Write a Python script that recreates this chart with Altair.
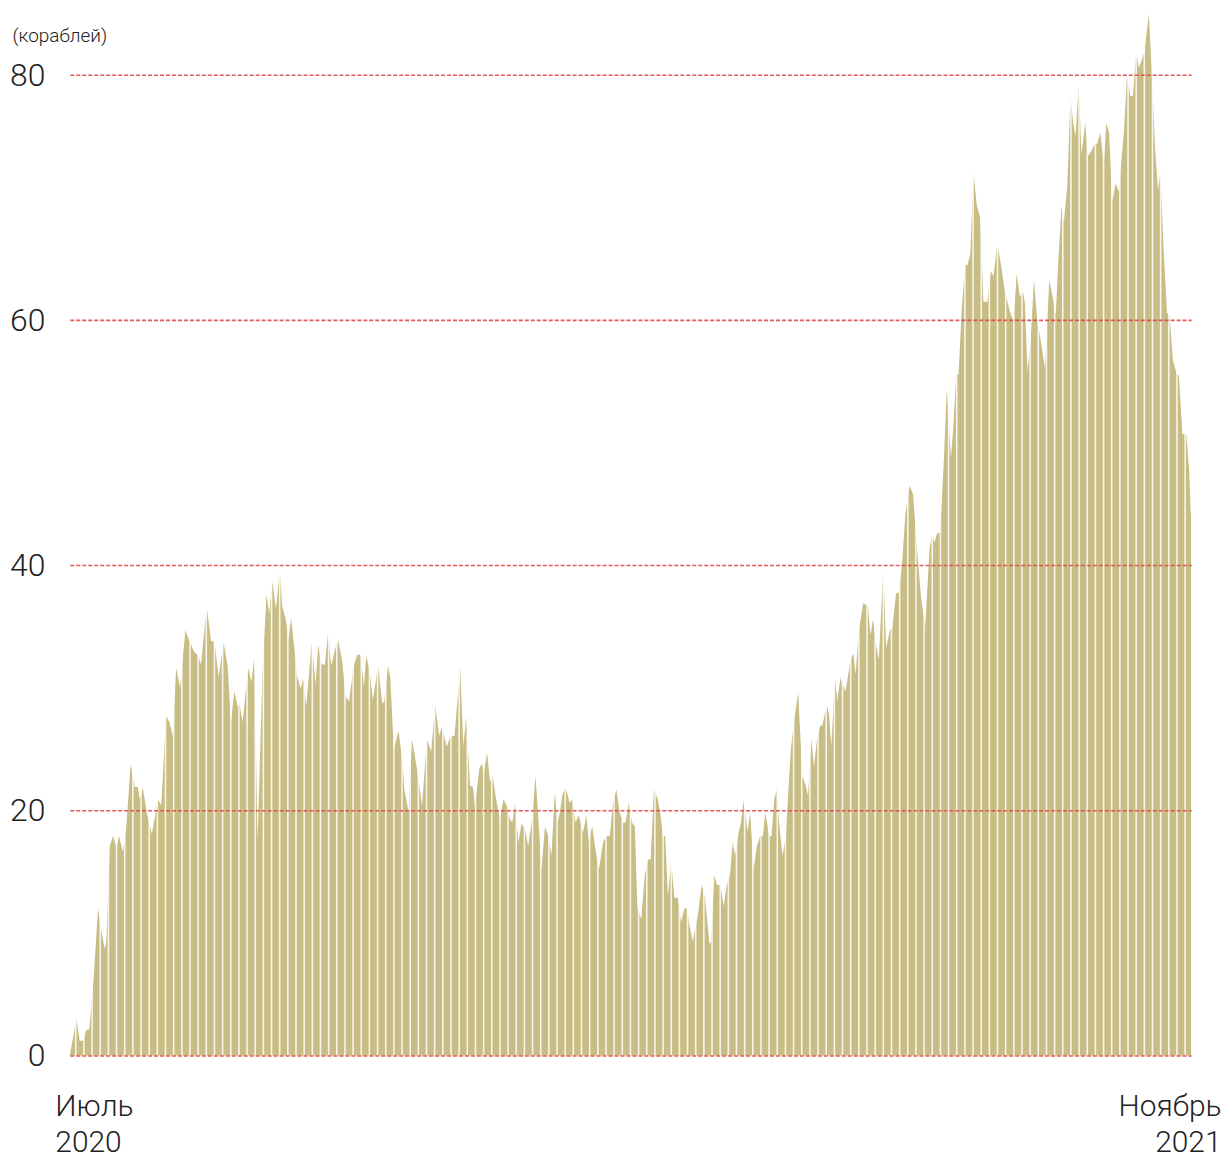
import altair as alt
import numpy as np
import pandas as pd

# Days since 1 July 2020 at which the outline was read
day_offset = [
    0.0, 2.9, 4.3, 5.8, 7.2, 8.4, 10.1, 12.3, 13.8, 15.2,
    15.9, 17.4, 18.8, 20.3, 21.4, 23.1, 24.6, 26.5, 28.2, 29.6,
    30.4, 31.8, 33.5, 35.7, 36.9, 38.3, 39.8, 41.9, 43.4, 44.8,
    46.3, 48.0, 50.3, 52.1, 54.2, 55.7, 57.1, 59.6, 61.5, 62.9,
    64.8, 66.9, 68.7, 70.1, 71.6, 73.0, 73.7, 75.2, 77.6, 79.1,
    80.3, 81.7, 83.9, 85.6, 86.8, 88.2, 89.7, 91.4, 92.5, 94.0,
    95.1, 96.3, 97.6, 99.0, 100.5, 101.6, 102.9, 105.3, 107.0, 108.1,
    109.6, 111.0, 112.4, 113.8, 115.4, 116.8, 118.6, 120.0, 121.5, 123.6,
    125.1, 126.5, 128.0, 129.0, 130.4, 131.9, 134.2, 135.9, 136.8, 138.5,
    139.5, 141.0, 143.1, 144.6, 145.6, 147.5, 148.9, 151.1, 153.3, 155.4,
    157.3, 159.0, 160.8, 161.9, 164.1, 165.6, 167.4, 169.9, 171.3, 172.5,
    174.2, 175.4, 176.4, 178.2, 179.3, 180.3, 181.6, 182.9, 184.0, 185.8,
    187.2, 188.7, 190.1, 191.6, 192.6, 193.8, 195.2, 196.6, 198.1, 199.5,
    201.0, 202.7, 204.2, 205.3, 206.8, 208.2, 209.6, 211.1, 212.2, 213.3,
    214.3, 215.7, 217.6, 218.6, 220.1, 221.5, 223.4, 224.8, 225.9, 227.3,
    229.2, 230.3, 232.1, 233.5, 235.0, 236.4, 237.9, 239.3, 240.8, 241.8,
    243.3, 244.7, 245.9, 247.0, 248.7, 250.2, 251.6, 252.8, 254.2, 255.9,
    257.1, 258.1, 259.1, 260.3, 261.7, 263.2, 264.6, 266.0, 267.5, 268.6,
    269.7, 271.1, 273.3, 275.0, 276.4, 278.4, 279.1, 280.5, 281.6, 283.1,
    284.6, 285.9, 287.3, 288.5, 289.5, 291.1, 292.1, 293.2, 295.0, 296.1,
    297.6, 299.0, 300.5, 301.6, 302.7, 304.4, 305.4, 306.6, 307.7, 308.7,
    310.2, 311.6, 313.8, 315.5, 317.0, 318.8, 320.3, 321.3, 322.7, 323.9,
    325.0, 326.5, 327.5, 329.4, 330.4, 331.4, 333.0, 334.0, 335.4, 337.6,
    339.8, 341.0, 342.0, 343.4, 345.3, 347.3, 348.5, 349.6, 351.1, 352.1,
    354.0, 355.3, 356.9, 357.9, 359.6, 360.8, 362.2, 363.6, 365.5, 367.0,
    368.7, 370.5, 372.3, 374.2, 375.2, 376.4, 377.4, 378.8, 380.3, 381.7,
    383.5, 384.6, 385.8, 386.8, 388.2, 389.7, 390.7, 391.9, 393.3, 394.7,
    396.2, 397.6, 399.4, 400.8, 402.0, 403.7, 405.1, 407.0, 409.2, 410.7,
    412.1, 413.5, 414.7, 415.7, 416.8, 418.2, 419.6, 421.1, 422.5, 424.4,
    426.3, 428.0, 429.1, 430.2, 431.6, 432.6, 434.1, 435.5, 436.7, 437.7,
    439.1, 440.3, 441.9, 443.2, 444.6, 446.1, 447.1, 448.5, 450.0, 451.1,
    452.3, 453.7, 455.2, 456.5, 457.6, 458.8, 460.1, 461.5, 462.7, 464.1,
    465.3, 466.4, 467.7, 469.6, 470.9, 472.4, 473.6, 474.7, 476.0, 477.5,
    478.6, 480.1, 481.8, 482.7, 484.2, 485.9, 487.1, 488.0,
]

# Number of ships (кораблей)
vessels = [
    0, 3.0, 1.2, 1.2, 2.1, 2.1, 5.5, 12.0, 10.1, 8.7,
    9.3, 17.1, 17.9, 17.0, 17.9, 16.6, 18.7, 23.8, 21.9, 21.9,
    20.9, 21.8, 19.8, 18.1, 19.3, 20.9, 20.4, 27.7, 27.2, 26.1,
    31.6, 30.0, 34.7, 33.8, 32.9, 32.7, 31.9, 36.6, 33.8, 33.8,
    30.9, 33.7, 31.8, 27.2, 29.7, 28.5, 28.8, 27.2, 31.6, 30.5,
    32.5, 17.4, 31.5, 37.6, 36.1, 38.7, 36.4, 39.6, 36.6, 35.6,
    33.9, 35.7, 33.4, 30.9, 29.9, 30.8, 28.5, 33.7, 30.3, 33.5,
    31.9, 31.9, 34.5, 31.8, 33.1, 33.9, 32.1, 29.3, 28.9, 31.8,
    32.7, 32.7, 30.1, 32.6, 31.5, 29.0, 31.8, 28.8, 28.8, 31.8,
    30.8, 25.0, 26.5, 24.2, 21.7, 19.8, 25.8, 23.4, 20.4, 25.8,
    24.8, 28.6, 26.1, 26.8, 25.2, 26.0, 26.1, 31.6, 25.2, 27.7,
    22.0, 21.9, 20.4, 23.4, 23.8, 23.2, 24.7, 22.3, 22.8, 20.6,
    19.3, 20.9, 20.4, 19.3, 19.0, 20.6, 17.4, 18.9, 18.5, 17.1,
    19.0, 22.8, 18.5, 15.2, 18.7, 17.9, 16.3, 21.5, 19.0, 19.8,
    21.2, 21.9, 20.6, 20.9, 19.0, 19.6, 18.2, 19.6, 17.4, 18.7,
    16.3, 15.2, 17.4, 17.9, 17.9, 20.6, 21.7, 19.8, 19.0, 19.0,
    20.6, 19.0, 18.7, 12.2, 11.1, 14.7, 16.0, 16.0, 21.7, 20.9,
    19.6, 17.9, 17.9, 13.0, 15.8, 12.8, 12.9, 10.9, 12.0, 12.0,
    10.6, 9.3, 11.4, 13.9, 13.0, 9.1, 9.3, 14.7, 13.9, 13.9,
    12.2, 13.9, 14.7, 17.4, 16.3, 18.2, 19.0, 20.8, 18.3, 19.8,
    15.2, 17.1, 17.9, 17.9, 19.8, 17.9, 17.9, 20.9, 21.7, 19.0,
    16.3, 17.9, 25.0, 27.7, 29.6, 22.8, 22.0, 21.2, 25.8, 23.6,
    25.5, 26.9, 26.9, 28.6, 27.9, 25.2, 30.8, 28.9, 30.8, 29.7,
    32.3, 32.8, 31.1, 34.7, 36.9, 36.7, 34.3, 35.6, 33.3, 32.3,
    39.7, 33.3, 34.7, 34.8, 37.7, 37.8, 40.0, 44.1, 46.5, 45.8,
    41.4, 37.3, 35.0, 41.4, 42.4, 41.9, 42.6, 42.7, 48.2, 54.4,
    48.8, 51.5, 55.6, 55.6, 61.0, 64.5, 64.5, 65.4, 72.1, 69.4,
    68.4, 61.5, 61.5, 64.0, 63.6, 66.2, 64.7, 62.3, 60.7, 59.9,
    63.8, 61.9, 62.5, 61.3, 55.8, 58.4, 63.3, 59.9, 58.4, 56.1,
    63.3, 61.6, 60.4, 64.8, 69.3, 68.0, 70.9, 78.2, 76.1, 75.0,
    79.2, 73.5, 76.1, 73.4, 73.8, 74.4, 74.4, 75.3, 72.7, 76.1,
    75.3, 69.7, 71.2, 70.5, 72.9, 75.5, 80.0, 78.3, 78.3, 81.9,
    80.6, 81.2, 81.9, 85.0, 80.2, 73.8, 70.6, 72.1, 66.0, 60.6,
    60.4, 56.7, 55.6, 55.5, 50.7, 50.7, 47.9, 43.5,
]

y_ticks = [0, 20, 40, 60, 80]
y_title = "(кораблей)"
start_label = ["Июль", "2020"]
end_label = ["Ноябрь", "2021"]

START = pd.Timestamp("2020-07-01")
df = pd.DataFrame({
    "date": START + pd.to_timedelta(day_offset, unit="D"),
    "vessels": vessels,
})

# decorative white hatch lines (style only)
stripe_days = np.arange(2.6, 488, 3.55)
stripes_df = pd.DataFrame({"date": START + pd.to_timedelta(stripe_days, unit="D")})

FONT = "Roboto"
TXT = "#222222"

x_scale = alt.Scale(domain=[alt.DateTime(year=2020, month=7, date=1),
                            alt.DateTime(year=2021, month=11, date=1)])
y_scale = alt.Scale(domain=[0, 85], nice=False, zero=True)

label_expr = (
    f"year(datum.value) == 2020 ? ['{start_label[0]}', '{start_label[1]}'] "
    f": ['{end_label[0]}', '{end_label[1]}']"
)

x_axis = alt.Axis(
    values=[alt.DateTime(year=2020, month=7, date=1),
            alt.DateTime(year=2021, month=11, date=1)],
    labelExpr=label_expr,
    labelAlign={"condition": {"test": "year(datum.value) == 2020", "value": "left"},
                "value": "right"},
    labelOffset={"condition": {"test": "year(datum.value) == 2020", "value": -15},
                 "value": 30},
    labelFont=FONT,
    labelFontSize=30,
    labelFontWeight=300,
    labelLineHeight=36,
    labelColor=TXT,
    labelBaseline="top",
    labelPadding=36,
    labelOverlap=False,
    labelFlush=False,
    ticks=False,
    domain=False,
    grid=False,
    title=None,
)

y_axis = alt.Axis(
    values=y_ticks,
    grid=True,
    gridColor="#e04848",
    gridDash=[4, 2],
    gridWidth=1.6,
    gridOpacity=0.9,
    domain=False,
    ticks=False,
    labelFont=FONT,
    labelFontSize=32,
    labelFontWeight=300,
    labelColor=TXT,
    labelPadding=25,
    title=y_title,
    titleAngle=0,
    titleAlign="left",
    titleBaseline="alphabetic",
    titleX=-58,
    titleY=28,
    titleFont=FONT,
    titleFontSize=19,
    titleFontWeight=300,
    titleColor=TXT,
    zindex=1,
)

area = alt.Chart(df).mark_area(color="#c8bd84", interpolate="linear").encode(
    x=alt.X("date:T", scale=x_scale, axis=x_axis),
    y=alt.Y("vessels:Q", scale=y_scale, axis=y_axis),
)

stripes = alt.Chart(stripes_df).mark_rule(color="white", strokeWidth=1.6, opacity=0.85).encode(
    x=alt.X("date:T", scale=x_scale),
    y=alt.datum(0),
    y2=alt.datum(85),
)

chart = alt.layer(area, stripes).properties(
    width=1125,
    height=1045,
    autosize=alt.AutoSizeParams(type="none"),
    padding={"left": 62, "top": 4, "right": 30, "bottom": 104},
    background="white",
).configure_view(stroke=None)

chart.save("out.html", embed_options={"renderer": "svg", "actions": False})
